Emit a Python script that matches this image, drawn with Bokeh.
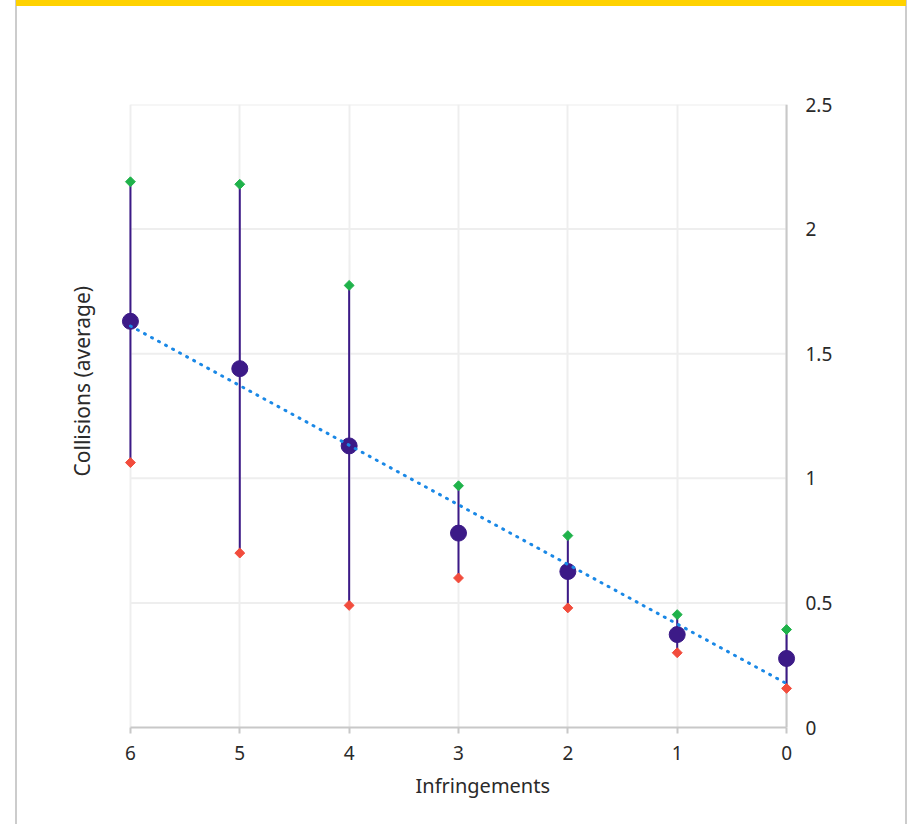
import math
import numpy as np
from bokeh.plotting import figure
from bokeh.models import Range1d, FixedTicker, Title
from bokeh.embed import file_html
from bokeh.resources import INLINE

# ---- data ----
infringements = [6, 5, 4, 3, 2, 1, 0]
avg_collisions = [1.63, 1.44, 1.13, 0.78, 0.626, 0.373, 0.277]
upper_values = [2.19, 2.18, 1.774, 0.97, 0.77, 0.453, 0.393]
lower_values = [1.063, 0.70, 0.49, 0.60, 0.48, 0.30, 0.157]
x_ticks = [0, 1, 2, 3, 4, 5, 6]
y_ticks = [0, 0.5, 1, 1.5, 2, 2.5]
y_tick_labels = ["0", "0.5", "1", "1.5", "2", "2.5"]

PURPLE = "#3c1a87"
GREEN = "#1fb24a"
RED = "#f24c3c"
BLUE = "#1a88e6"
GRID = "#eeeeee"
AXIS = "#c8c8c8"
TEXT = "#2a2a2a"
FONT = "Noto Sans"

W, H = 909, 824
BL, BR, BT, BB = 119, 112, 104, 97
PAD = 0.1

xmin, xmax = min(infringements), max(infringements)
ymin, ymax = y_ticks[0], y_ticks[-1]

p = figure(width=W, height=H,
           x_range=Range1d(xmax + PAD, xmin - PAD), y_range=Range1d(ymin, ymax),
           output_backend="svg", toolbar_location=None,
           y_axis_location="right",
           min_border_left=BL, min_border_right=BR,
           min_border_top=BT, min_border_bottom=BB)
p.outline_line_color = None
p.background_fill_color = "white"
p.border_fill_color = None
# page decoration: yellow bar on top, thin grey side borders
p.styles = {
    "background": (
        "linear-gradient(#ffd200, #ffd200) 16px 0px / 890px 6px no-repeat, "
        "linear-gradient(#cccccc, #cccccc) 15px 0px / 2px 100% no-repeat, "
        "linear-gradient(#cccccc, #cccccc) 905px 0px / 2px 100% no-repeat, "
        "#ffffff"
    )
}

# x axis
xa = p.xaxis[0]
xa.ticker = FixedTicker(ticks=x_ticks)
xa.bounds = (xmin, xmax)
xa.axis_line_color = AXIS
xa.axis_line_width = 2
xa.major_tick_line_color = AXIS
xa.major_tick_line_width = 2
xa.major_tick_out = 6
xa.major_tick_in = 0
xa.minor_tick_line_color = None
xa.major_label_text_font = FONT
xa.major_label_text_font_size = "19px"
xa.major_label_text_color = TEXT
xa.major_label_standoff = 12

# y axis (right)
ya = p.yaxis[0]
ya.ticker = FixedTicker(ticks=y_ticks)
ya.major_label_overrides = {t: l for t, l in zip(y_ticks, y_tick_labels)}
ya.axis_line_color = None
ya.major_tick_line_color = None
ya.minor_tick_line_color = None
ya.major_label_text_font = FONT
ya.major_label_text_font_size = "19px"
ya.major_label_text_color = TEXT
ya.major_label_standoff = 2

# grids
p.xgrid.ticker = FixedTicker(ticks=x_ticks)
p.xgrid.grid_line_color = GRID
p.xgrid.grid_line_width = 2
p.ygrid.visible = False
hy = y_ticks[1:]
p.segment(x0=[xmax] * len(hy), y0=hy, x1=[xmin] * len(hy), y1=hy,
          line_color=GRID, line_width=2)
# right axis line at x = 0
p.segment(x0=[xmin], y0=[ymin], x1=[xmin], y1=[ymax], line_color=AXIS, line_width=2)

# range lines
p.segment(x0=infringements, y0=lower_values, x1=infringements, y1=upper_values,
          line_color=PURPLE, line_width=2)
# averages
p.scatter(infringements, avg_collisions, size=16, fill_color=PURPLE, line_color=PURPLE)
# upper / lower markers
p.scatter(infringements, upper_values, marker="square", angle=math.pi / 4, size=7,
          fill_color=GREEN, line_color=GREEN)
p.scatter(infringements, lower_values, marker="square", angle=math.pi / 4, size=7,
          fill_color=RED, line_color=RED)

# linear trend line of the averages
coef = np.polyfit(infringements, avg_collisions, 1)
tx = [xmax, xmin]
ty = list(np.polyval(coef, tx))
p.line(tx, ty, line_color=BLUE, line_width=3, line_dash="1 7", line_cap="round")

# axis titles
p.add_layout(Title(text="Infringements", align="left", offset=296, standoff=15,
                   text_font=FONT, text_font_size="20px", text_font_style="normal",
                   text_color=TEXT), "below")
p.add_layout(Title(text="Collisions (average)", align="left", offset=251, standoff=47,
                   text_font=FONT, text_font_size="21px", text_font_style="normal",
                   text_color=TEXT), "left")

open("out.html", "w").write(file_html(p, INLINE))
